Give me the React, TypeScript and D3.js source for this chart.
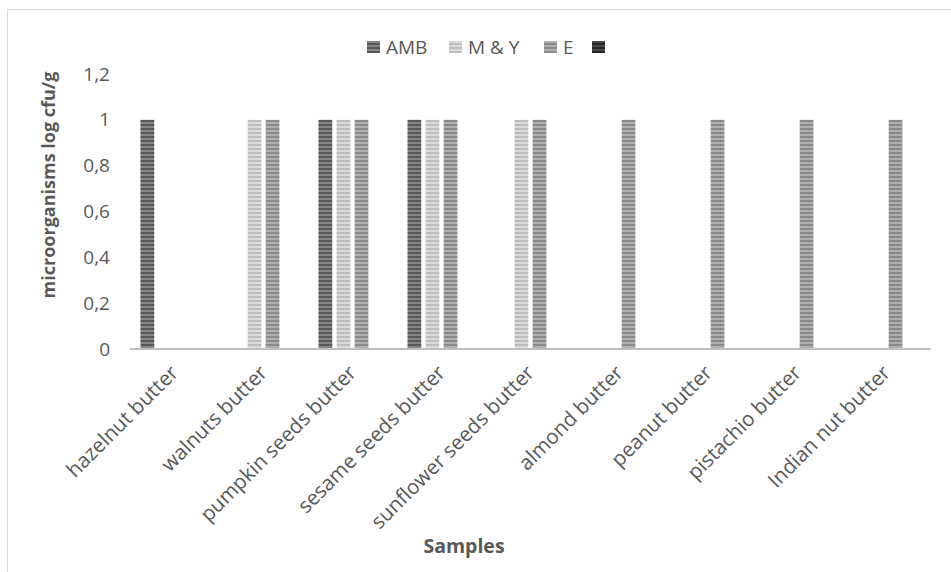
import React from "react";
import { scaleBand, scaleLinear } from "d3";

const categories = [
  "hazelnut butter",
  "walnuts butter",
  "pumpkin seeds butter",
  "sesame seeds butter",
  "sunflower seeds butter",
  "almond butter",
  "peanut butter",
  "pistachio butter",
  "Indian nut butter",
];
const seriesNames = ["AMB", "M & Y", "E", ""];
const amb = [1, 0, 1, 1, 0, 0, 0, 0, 0];
const my = [0, 1, 1, 1, 1, 0, 0, 0, 0];
const e = [0, 1, 1, 1, 1, 1, 1, 1, 1];
const fourth = [0, 0, 0, 0, 0, 0, 0, 0, 0];
const yTicks = [0, 0.2, 0.4, 0.6, 0.8, 1, 1.2];

const series = [amb, my, e, fourth];
const stripes = [
  ["#575757", "#858585"],
  ["#bdbdbd", "#dadada"],
  ["#8a8a8a", "#afafaf"],
  ["#262626", "#4a4a4a"],
];

const W = 951;
const H = 572;
const LEFT = 130;
const RIGHT = 931;
const TOP = 74;
const BOTTOM = 349;
const FONT = "'Open Sans', 'Noto Sans', sans-serif";

const fmt = (v: number) => String(Math.round(v * 10) / 10).replace(".", ",");

export default function App() {
  const x = scaleBand<string>().domain(categories).range([LEFT, RIGHT]);
  const inner = scaleBand<number>()
    .domain([0, 1, 2, 3])
    .range([-34, 34])
    .paddingInner(0.24);
  const y = scaleLinear().domain([0, 1.2]).range([BOTTOM, TOP]);

  const legendX = [367, 449, 544, 592];

  return (
    <svg
      width={W}
      height={H}
      style={{ position: "absolute", left: 0, top: 0 }}
      fontFamily={FONT}
    >
      <defs>
        {stripes.map((c, i) => (
          <pattern
            key={i}
            id={`stripe${i}`}
            patternUnits="userSpaceOnUse"
            width={4}
            height={4}
          >
            <rect width={4} height={4} fill={c[1]} />
            <rect width={4} height={2} fill={c[0]} />
          </pattern>
        ))}
      </defs>
      <rect x={0} y={0} width={W} height={H} fill="#fff" />
      <line x1={7.5} y1={9} x2={7.5} y2={H} stroke="#d9d9d9" />
      <line x1={7} y1={9.5} x2={W} y2={9.5} stroke="#d9d9d9" />

      {/* legend */}
      {seriesNames.map((n, i) => (
        <g key={i} transform={`translate(${legendX[i]},47)`}>
          <rect x={0} y={-6} width={13} height={12} fill={`url(#stripe${i})`} />
          <text x={19} y={0} dy="0.35em" fontSize={19} fill="#595959">
            {n}
          </text>
        </g>
      ))}

      {/* y ticks */}
      {yTicks.map((t) => (
        <text
          key={t}
          x={110}
          y={y(t)}
          dy="0.35em"
          textAnchor="end"
          fontSize={19}
          fill="#595959"
        >
          {fmt(t)}
        </text>
      ))}
      <text
        transform={`translate(55,185) rotate(-90)`}
        textAnchor="middle"
        fontSize={18}
        fontWeight="bold"
        fill="#595959"
      >
        microorganisms log cfu/g
      </text>

      {/* bars */}
      {categories.map((c, ci) => {
        const cx = x(c)! + x.bandwidth() / 2;
        return (
          <g key={c}>
            {series.map((s, si) =>
              s[ci] > 0 ? (
                <rect
                  key={si}
                  x={cx + inner(si)!}
                  y={y(s[ci])}
                  width={inner.bandwidth()}
                  height={y(0) - y(s[ci])}
                  fill={`url(#stripe${si})`}
                />
              ) : null
            )}
          </g>
        );
      })}

      <line x1={LEFT} x2={RIGHT} y1={BOTTOM} y2={BOTTOM} stroke="#bfbfbf" strokeWidth={2} />

      {/* x labels */}
      {categories.map((c) => {
        const cx = x(c)! + x.bandwidth() / 2;
        return (
          <text
            key={c}
            transform={`translate(${cx + 5},${BOTTOM + 25}) rotate(-45)`}
            textAnchor="end"
            fontSize={20.5}
            fill="#595959"
          >
            {c}
          </text>
        );
      })}
      <text
        x={464}
        y={553}
        textAnchor="middle"
        fontSize={19.5}
        fontWeight="bold"
        fill="#595959"
      >
        Samples
      </text>
    </svg>
  );
}
